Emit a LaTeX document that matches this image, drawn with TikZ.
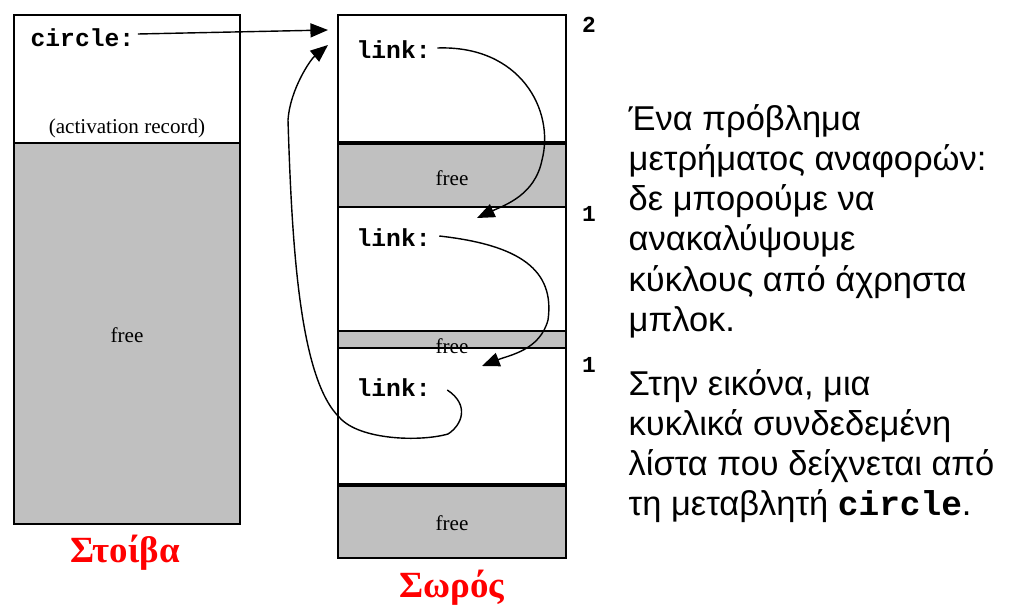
\documentclass[tikz,border=0pt]{standalone}
\usepackage{fontspec}
\setmainfont{Liberation Serif}
\newfontfamily\monof{Liberation Mono}
\newfontfamily\sansf{Liberation Sans}
\usetikzlibrary{arrows.meta}
\begin{document}
\begin{tikzpicture}[x=0.01cm,y=-0.01cm,
  box/.style={draw,line width=0.5pt},
  gray/.style={fill={rgb,255:red,192;green,192;blue,192},draw,line width=0.5pt},
  code/.style={font=\monof\bfseries\fontsize{7}{8}\selectfont,anchor=west,inner sep=0},
  lbl/.style={font=\fontsize{6}{7}\selectfont,inner sep=0},
  cnt/.style={font=\monof\bfseries\fontsize{6.5}{7}\selectfont,inner sep=0},
  ttl/.style={font=\bfseries\fontsize{10.5}{12}\selectfont,text={rgb,255:red,255;green,0;blue,0},inner sep=0},
  gtxt/.style={font=\sansf\fontsize{9.8}{11.4}\selectfont,anchor=north west,inner sep=0,align=left},
  ptr/.style={-{Triangle[length=5pt,width=4pt]},line width=0.4pt}]
\useasboundingbox (0,0) rectangle (1024,612);
% stack
\draw[box] (14,15) rectangle (240,143);
\fill[gray] (14,143) rectangle (240,524);
\draw[line width=0.8pt] (14,143) -- (240,143);
\node[code] (circ) at (30,38) {circle:};
\node[lbl] (act) at (127,128) {(activation record)};
\node[lbl] (sfree) at (127,335) {free};
\node[ttl] (st) at (125,553) {Στοίβα};
% heap
\draw[box] (338,15) rectangle (566,143);
\fill[gray] (338,143) rectangle (566,207);
\draw[box] (338,207) rectangle (566,331);
\fill[gray] (338,331) rectangle (566,348);
\draw[box] (338,348) rectangle (566,485);
\fill[gray] (338,485) rectangle (566,558);
\draw[line width=1pt] (338,143) -- (566,143);
\draw[line width=1pt] (338,485) -- (566,485);
\node[lbl] (f1) at (452,178) {free};
\node[lbl] (f2) at (452,346) {free};
\node[lbl] (f3) at (452,523) {free};
\node[code] (l1) at (356,50) {link:};
\node[code] (l2) at (356,238) {link:};
\node[code] (l3) at (356,388) {link:};
\node[cnt] (n2) at (589,25) {2};
\node[cnt] (n1a) at (589,214) {1};
\node[cnt] (n1b) at (589,365) {1};
\node[ttl] (hp) at (452,588) {Σωρός};
\coordinate (h1) at (328,30);
\coordinate (h1b) at (328,45);
\coordinate (h2) at (477,218);
\coordinate (h3) at (482,366);
% pointers
\draw[ptr] (circ.east) ++(3,-4) -- (h1);
\draw[ptr] (l1.east) ++(6,-2) .. controls (520,45) and (555,110) .. (542,160) .. controls (535,195) and (505,205) .. (h2);
\draw[ptr] (l2.east) ++(8,-2) .. controls (520,245) and (555,270) .. (548,320) .. controls (540,350) and (510,355) .. (h3);
\draw[ptr] (l3.east) ++(16,2) .. controls (470,405) and (462,425) .. (448,434) .. controls (420,442) and (360,440) .. (340,418) .. controls (300,380) and (292,250) .. (288,120) .. controls (290,90) and (310,60) .. (h1b);
% text
\node[gtxt] (g1) at (628,104) {Ένα πρόβλημα\\μετρήματος αναφορών:\\δε μπορούμε να\\ανακαλύψουμε\\κύκλους από άχρηστα\\μπλοκ.};
\node[gtxt] (g2) at (628,369) {Στην εικόνα, μια\\κυκλικά συνδεδεμένη\\λίστα που δείχνεται από\\τη μεταβλητή {\monof\bfseries circle}.};
\end{tikzpicture}
\end{document}
